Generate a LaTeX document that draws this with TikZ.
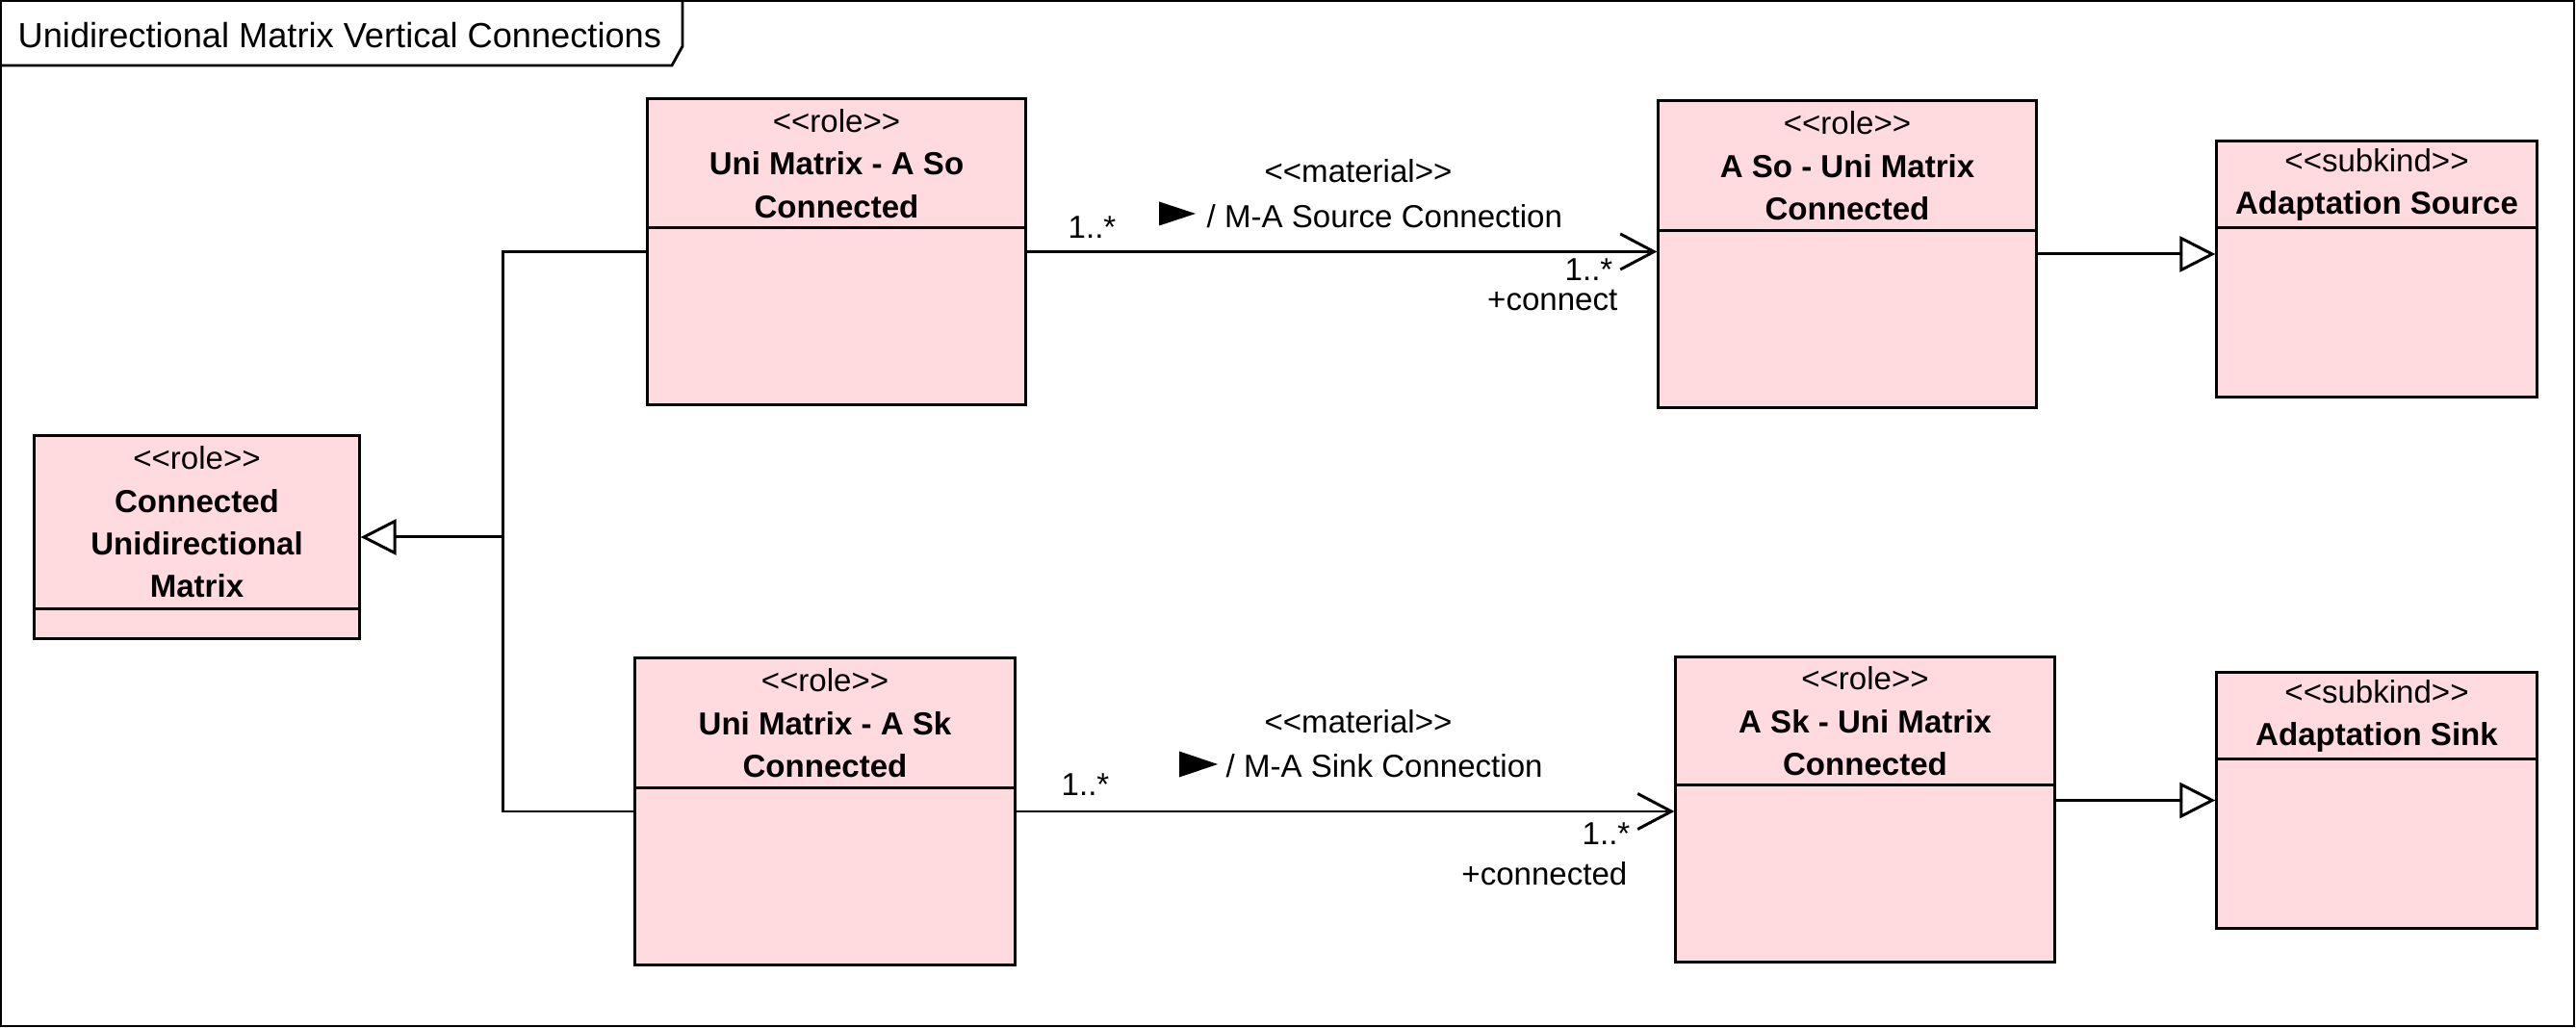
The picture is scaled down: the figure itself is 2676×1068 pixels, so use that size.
\documentclass[tikz,border=0pt]{standalone}
\usepackage{fontspec}
\setmainfont{Liberation Sans}
\usepackage{tikz}
\usetikzlibrary{positioning}
\usetikzlibrary{arrows.meta}

\definecolor{rolepink}{RGB}{255,219,224}
\newcommand{\stereo}[1]{<{}<#1>{}>}

\begin{document}
\begin{tikzpicture}[
                x=0.01cm, y=-0.01cm,
                classbox/.style={rectangle, draw, fill=rolepink, line width=0.85pt, inner sep=0pt},
                headbox/.style={rectangle, draw, line width=0.85pt, inner sep=0pt, anchor=north, align=center, font=\fontsize{9.4}{12.6}\selectfont},
                lbl/.style={inner sep=0pt, font=\fontsize{9.4}{11}\selectfont},
                assoc/.style={-{Straight Barb[length=3.5mm,width=3.7mm]}, line width=0.85pt},
                gen/.style={-{Triangle[open,length=3.7mm,width=3.7mm,fill=white]}, line width=0.85pt},
            ]
            \useasboundingbox (0,0) rectangle (2676,1068);

            % Frame
            \draw[line width=0.8pt] (1,1) rectangle (2674,1066);
            \node[inner sep=0pt, anchor=base west, font=\fontsize{10.3}{12}\selectfont] (title) at (18,50) {Unidirectional Matrix Vertical Connections};
            \draw[line width=0.8pt] (0,68) -- (698,68) -- (709,48) -- (709,0);

            % Nodes
            \node[classbox, minimum width=3.37cm, minimum height=2.10cm] (cum) at (204.5,558) {};
            \node[headbox, minimum width=3.37cm, minimum height=1.79cm] (cum_head) at (cum.north) {\stereo{role}\\\textbf{Connected}\\\textbf{Unidirectional}\\\textbf{Matrix}};

            \node[classbox, minimum width=3.92cm, minimum height=3.17cm] (uniso) at (869,261.5) {};
            \node[headbox, minimum width=3.92cm, minimum height=1.34cm] (uniso_head) at (uniso.north) {\stereo{role}\\\textbf{Uni Matrix - A So}\\\textbf{Connected}};

            \node[classbox, minimum width=3.92cm, minimum height=3.18cm] (asouni) at (1919,264) {};
            \node[headbox, minimum width=3.92cm, minimum height=1.35cm] (asouni_head) at (asouni.north) {\stereo{role}\\\textbf{A So - Uni Matrix}\\\textbf{Connected}};

            \node[classbox, minimum width=3.32cm, minimum height=2.65cm] (adsrc) at (2469,279.5) {};
            \node[headbox, minimum width=3.32cm, minimum height=0.90cm] (adsrc_head) at (adsrc.north) {\stereo{subkind}\\\textbf{Adaptation Source}};

            \node[classbox, minimum width=3.94cm, minimum height=3.18cm] (unisk) at (857,843) {};
            \node[headbox, minimum width=3.94cm, minimum height=1.35cm] (unisk_head) at (unisk.north) {\stereo{role}\\\textbf{Uni Matrix - A Sk}\\\textbf{Connected}};

            \node[classbox, minimum width=3.93cm, minimum height=3.16cm] (askuni) at (1937.5,841) {};
            \node[headbox, minimum width=3.93cm, minimum height=1.33cm] (askuni_head) at (askuni.north) {\stereo{role}\\\textbf{A Sk - Uni Matrix}\\\textbf{Connected}};

            \node[classbox, minimum width=3.32cm, minimum height=2.65cm] (adsnk) at (2469,831.5) {};
            \node[headbox, minimum width=3.32cm, minimum height=0.90cm] (adsnk_head) at (adsnk.north) {\stereo{subkind}\\\textbf{Adaptation Sink}};

            \coordinate (jn) at (522,558);

            %Lines
            \draw[line width=0.85pt] (uniso.west) -| (jn) |- (unisk.west);
            \draw[gen] (jn) -- (cum.east);
            \draw[assoc] (uniso.east) -- (uniso.east -| asouni.west);
            \draw[gen] (asouni.east) -- (asouni.east -| adsrc.west);
            \draw[assoc] (unisk.east) -- (unisk.east -| askuni.west);
            \draw[gen] (askuni.east |- adsnk.west) -- (adsnk.west);

            % Labels
            \node[lbl, anchor=base] (so_stereo) at (1411,190) {\stereo{material}};
            \node[lbl, anchor=base west] (so_name) at (1253,237) {/ M-A Source Connection};
            \fill ([shift={(-11,-15)}]so_name.base west) -- ++(-38,-12.5) -- ++(0,25) -- cycle;
            \node[lbl, anchor=base west] (so_mult_a) at (1109,248) {1..*};
            \node[lbl, anchor=base west] (so_mult_b) at (1625,292) {1..*};
            \node[lbl, anchor=base east] (so_role) at (1681,323) {+connect};

            \node[lbl, anchor=base] (sk_stereo) at (1411,762) {\stereo{material}};
            \node[lbl, anchor=base west] (sk_name) at (1273,808) {/ M-A Sink Connection};
            \fill ([shift={(-8,-14)}]sk_name.base west) -- ++(-40,-13.5) -- ++(0,27) -- cycle;
            \node[lbl, anchor=base west] (sk_mult_a) at (1102,827) {1..*};
            \node[lbl, anchor=base west] (sk_mult_b) at (1643,878) {1..*};
            \node[lbl, anchor=base east] (sk_role) at (1691,920) {+connected};
        \end{tikzpicture}
\end{document}
